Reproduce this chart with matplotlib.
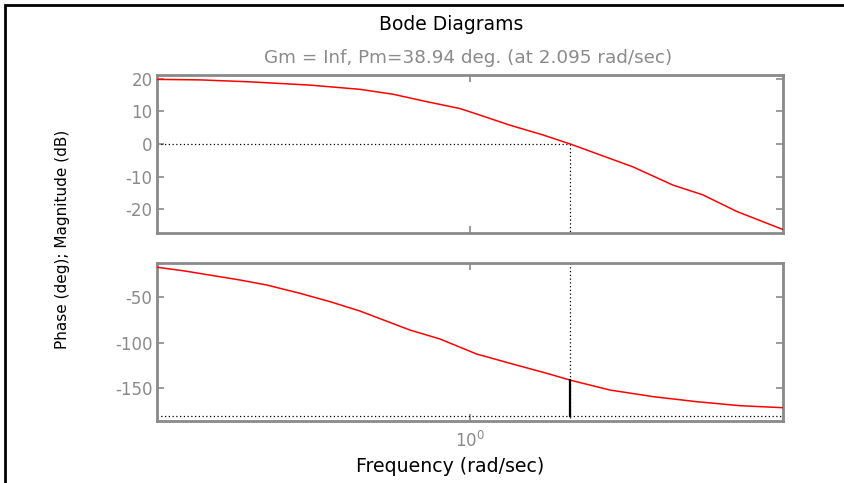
"""Bode diagram (magnitude + phase) with gain/phase margin markers."""

import matplotlib
matplotlib.use("Agg")
import matplotlib.pyplot as plt
from matplotlib.patches import Rectangle
from matplotlib.ticker import FixedLocator, NullLocator, LogFormatterMathtext

matplotlib.rcParams.update({
    "font.family": ["DejaVu Sans"],
    "axes.unicode_minus": False,
})

# ---------------------------------------------------------------------------
# data
# ---------------------------------------------------------------------------
mag_w = [0.1, 0.137, 0.198, 0.308, 0.445, 0.567, 0.729, 0.929, 1.076, 1.342,
         1.712, 2.095, 3.32, 4.46, 5.56, 7.14, 10.0]
mag_db = [19.85, 19.7, 19.1, 18.1, 16.8, 15.3, 13.0, 10.9, 8.9, 5.8,
          2.8, 0.0, -7.0, -12.6, -15.6, -20.7, -26.2]

ph_w = [0.1, 0.121, 0.184, 0.224, 0.286, 0.357, 0.445, 0.643, 0.802, 1.05,
        1.342, 1.759, 2.095, 2.804, 3.857, 5.31, 7.30, 10.0]
ph_deg = [-17.0, -20.8, -31.0, -36.5, -45.6, -54.8, -65.1, -86.0, -95.8, -112.3,
          -122.5, -133.5, -141.06, -151.9, -159.2, -164.7, -169.1, -171.3]

w_c = 2.095          # gain crossover (rad/sec)
pm = 38.94           # phase margin (deg)

mag_ticks = [-20, -10, 0, 10, 20]
ph_ticks = [-150, -100, -50]

GRAY = "#8a8a8a"
W, H = 844, 483

fig = plt.figure(figsize=(W / 100, H / 100), dpi=100)


def px_rect(left, top, right, bottom):
    return [left / W, 1 - bottom / H, (right - left) / W, (bottom - top) / H]


ax_m = fig.add_axes(px_rect(157.3, 75, 782.7, 233))
ax_p = fig.add_axes(px_rect(157.3, 263, 782.7, 420.7))

for ax in (ax_m, ax_p):
    ax.set_xscale("log")
    ax.set_xlim(0.1, 10)
    ax.xaxis.set_major_locator(FixedLocator([1.0]))
    ax.xaxis.set_minor_locator(NullLocator())
    for sp in ax.spines.values():
        sp.set_color(GRAY)
        sp.set_linewidth(2.0)
    ax.tick_params(direction="in", top=True, right=True, length=5, width=1.2,
                   color=GRAY, labelcolor=GRAY, labelsize=12)

# magnitude
ax_m.plot(mag_w, mag_db, color="red", lw=1.1, zorder=3)
ax_m.set_ylim(-27.3, 21.2)
ax_m.set_yticks(mag_ticks)
ax_m.set_yticklabels([str(t) for t in mag_ticks])
ax_m.tick_params(labelbottom=False)
ax_m.plot([0.1, w_c], [0, 0], color="black", ls=(0, (1, 2)), lw=0.9)
ax_m.plot([w_c, w_c], [0, -27.3], color="black", ls=(0, (1, 2)), lw=0.9)

# phase
ax_p.plot(ph_w, ph_deg, color="red", lw=1.1, zorder=3)
ax_p.set_ylim(-185.6, -12.3)
ax_p.set_yticks(ph_ticks)
ax_p.set_yticklabels([str(t) for t in ph_ticks])
ax_p.xaxis.set_major_formatter(LogFormatterMathtext())
ax_p.tick_params(axis="x", pad=7)
ax_p.axhline(-180, color="black", ls=(0, (1, 2)), lw=0.9)
ax_p.plot([w_c, w_c], [-12.3, -185.6], color="black", ls=(0, (1, 2)), lw=0.9)
ax_p.plot([w_c, w_c], [-180, -180 + pm], color="black", lw=1.6, zorder=4)

# texts
fig.text(451 / W, 1 - 25 / H, "Bode Diagrams", ha="center", va="center",
         fontsize=13.5, color="black")
fig.text(468 / W, 1 - 58 / H, "Gm = Inf, Pm=38.94 deg. (at 2.095 rad/sec)",
         ha="center", va="center", fontsize=13.2, color=GRAY)
fig.text(450 / W, 1 - 467 / H, "Frequency (rad/sec)", ha="center", va="center",
         fontsize=13.6, color="black")
fig.text(63 / W, 1 - 239 / H, "Phase (deg); Magnitude (dB)", ha="center",
         va="center", rotation=90, fontsize=11, color="black")

# outer frame of the figure window (right and bottom edges fall outside)
fig.patches.append(Rectangle((5 / W, -0.05), 1.0, 1 - 5 / H + 0.05,
                             transform=fig.transFigure, fill=False,
                             edgecolor="black", lw=2.0))

fig.savefig("out.png", dpi=100)
